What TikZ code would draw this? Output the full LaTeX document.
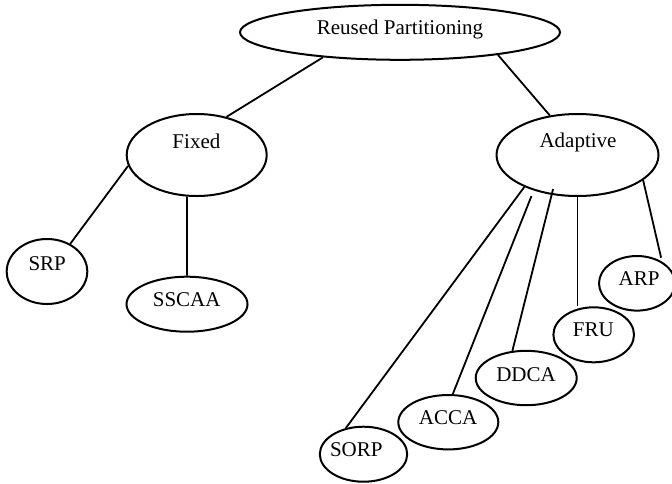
\documentclass[tikz,border=0pt]{standalone}
\usepackage{fontspec}
\setmainfont{Liberation Serif}
\usetikzlibrary{shapes.geometric}

\begin{document}
\begin{tikzpicture}[x=0.5pt, y=-0.5pt, font=\fontsize{10.5}{12.6}\selectfont]
    \definecolor{borderColour}{HTML}{000000}
    \tikzset{
        oval/.style={ellipse, draw=borderColour, line width=1pt, inner sep=0pt},
        branch/.style={draw=borderColour, line width=0.9pt},
        caption/.style={anchor=base, inner sep=0pt}
    }
    \useasboundingbox (0,0) rectangle (672,483);

    % Draw ellipses and their labels (name/centre/half sizes/text baseline/text)
    \foreach \name/\cx/\cy/\w/\h/\tx/\ty/\txt in {
        reused/400/32.3/160/27.5/400/34.3/Reused Partitioning,
        fixed/196.7/155/70/41/196.4/148.3/Fixed,
        adaptive/577.5/155/81/41/578/147.5/Adaptive,
        srp/47/271.5/40.3/32.5/47.2/270.7/SRP,
        sscaa/187/304.2/60.5/27.5/186.7/306.7/SSCAA,
        sorp/363.5/454.2/43.7/27.5/356.3/456.7/SORP,
        acca/448.3/422.2/50/27.2/448/424.3/ACCA,
        ddca/526.2/378/50.5/27.2/526/381.7/DDCA,
        fru/593.7/334.8/40.3/27.5/593.3/336.7/FRU,
        arp/637/283.3/38/27.3/639/285/ARP}
    {
        \node[oval, minimum width=\w pt, minimum height=\h pt] (\name) at (\cx,\cy) {};
        \node[caption] (\name-txt) at (\tx,\ty) {\txt};
    }

    % Draw branches of the tree
    \draw[branch] (reused.198) -- (fixed.52);
    \draw[branch] (reused.-13) -- (adaptive.125);
    \draw[branch] (fixed.189) -- (srp.50);
    \draw[branch] (fixed.257) -- (sscaa.north);
    \draw[branch] (adaptive.211) -- (sorp.124);
    \draw[branch, shorten <=3pt] (adaptive.219) -- (acca.81);
    \draw[branch, shorten <=-3pt] (adaptive.237) -- (ddca.117);
    \draw[branch] (adaptive.south) -- (adaptive.south |- fru.north);
    \draw[branch, shorten >=2pt] (adaptive.-21) -- (arp.41);

\end{tikzpicture}
\end{document}
